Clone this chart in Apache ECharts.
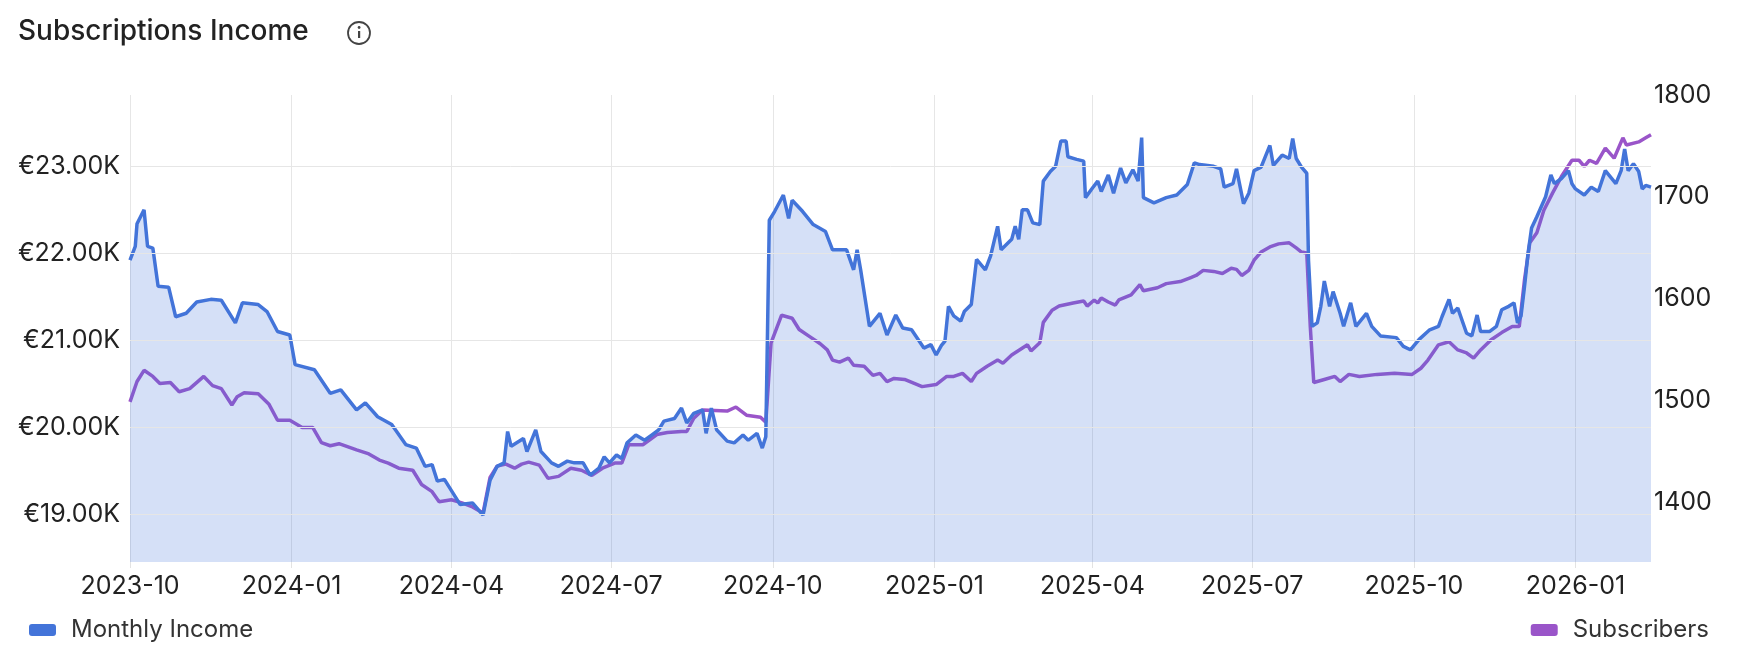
<!DOCTYPE html>
<html><head><meta charset="utf-8">
<script src="https://cdn.jsdelivr.net/npm/echarts@6/dist/echarts.min.js"></script>
<style>html,body{margin:0;padding:0;background:#fff}#c{width:1748px;height:660px}</style>
</head><body><div id="c"></div>
<script>
const startDate = '2023-10-01';
const totalDays = 866;
// [day offset from startDate, income in €K]
const incomePoints = [[0,21.92],[3,22.08],[4,22.34],[8,22.50],[10,22.08],[13,22.06],[16,21.62],[22,21.61],[26,21.27],[32,21.31],[38,21.44],[46,21.47],[52,21.46],[60,21.20],[64,21.43],[73,21.41],[78,21.33],[84,21.10],[91,21.06],[94,20.72],[105,20.66],[114,20.39],[120,20.43],[129,20.20],[134,20.28],[141,20.12],[149,20.03],[157,19.80],[163,19.76],[168,19.55],[172,19.57],[175,19.38],[179,19.40],[188,19.11],[195,19.13],[201,18.99],[205,19.39],[209,19.55],[213,19.59],[215,19.95],[217,19.78],[224,19.87],[226,19.72],[231,19.97],[234,19.72],[240,19.59],[244,19.55],[249,19.61],[253,19.59],[258,19.59],[262,19.45],[267,19.53],[270,19.66],[273,19.59],[277,19.68],[280,19.64],[283,19.82],[288,19.91],[293,19.85],[297,19.91],[301,19.97],[304,20.07],[310,20.10],[314,20.22],[317,20.05],[321,20.16],[326,20.20],[328,19.93],[331,20.22],[334,19.97],[340,19.84],[344,19.82],[349,19.91],[352,19.85],[357,19.93],[360,19.76],[362,19.89],[364,22.38],[367,22.48],[372,22.67],[375,22.40],[377,22.61],[383,22.48],[389,22.33],[396,22.25],[400,22.04],[408,22.04],[412,21.81],[414,22.04],[416,21.81],[421,21.16],[427,21.31],[431,21.06],[436,21.29],[440,21.14],[445,21.12],[452,20.91],[456,20.95],[459,20.83],[462,20.94],[464,20.99],[466,21.39],[469,21.28],[473,21.22],[475,21.33],[479,21.41],[482,21.93],[487,21.81],[490,21.97],[494,22.31],[496,22.04],[502,22.16],[504,22.31],[506,22.16],[508,22.50],[511,22.50],[514,22.35],[518,22.33],[520,22.83],[524,22.94],[527,23.00],[530,23.29],[533,23.29],[534,23.11],[539,23.08],[543,23.06],[544,22.64],[548,22.75],[551,22.83],[553,22.71],[557,22.90],[560,22.69],[564,22.98],[567,22.81],[571,22.96],[574,22.83],[576,23.33],[577,22.64],[583,22.58],[590,22.64],[596,22.67],[602,22.79],[606,23.04],[609,23.02],[617,23.00],[621,22.97],[623,22.76],[628,22.80],[630,22.97],[634,22.57],[637,22.69],[640,22.95],[644,22.99],[649,23.24],[651,23.01],[656,23.13],[660,23.09],[662,23.32],[664,23.09],[667,22.99],[670,22.92],[671,21.92],[673,21.16],[676,21.20],[678,21.39],[680,21.68],[683,21.39],[685,21.56],[689,21.31],[691,21.16],[695,21.43],[698,21.16],[704,21.31],[707,21.16],[712,21.05],[721,21.03],[725,20.93],[729,20.89],[734,21.01],[740,21.12],[745,21.16],[747,21.27],[751,21.47],[753,21.31],[756,21.37],[761,21.08],[764,21.05],[767,21.29],[769,21.10],[774,21.10],[778,21.16],[781,21.35],[785,21.39],[788,21.43],[790,21.20],[792,21.28],[794,21.62],[796,22.00],[798,22.29],[801,22.42],[806,22.65],[809,22.90],[811,22.80],[815,22.86],[819,22.95],[821,22.80],[823,22.74],[828,22.67],[832,22.76],[836,22.71],[840,22.95],[846,22.80],[849,22.95],[851,23.20],[853,22.95],[856,23.03],[859,22.94],[861,22.74],[863,22.78],[866,22.76]];
// [day offset from startDate, subscribers]
const subscriberPoints = [[0,1499],[4,1519],[8,1530],[13,1524],[17,1517],[23,1518],[28,1509],[34,1512],[42,1524],[47,1515],[52,1512],[58,1496],[61,1504],[65,1508],[73,1507],[79,1497],[84,1481],[91,1481],[98,1474],[104,1474],[109,1459],[114,1456],[119,1458],[129,1452],[136,1448],[142,1442],[147,1439],[153,1434],[161,1432],[166,1418],[172,1411],[176,1401],[183,1403],[189,1400],[195,1396],[201,1390],[205,1425],[209,1436],[214,1438],[219,1434],[223,1438],[227,1440],[233,1437],[238,1424],[244,1426],[251,1434],[257,1432],[263,1427],[269,1434],[276,1439],[280,1439],[284,1457],[292,1457],[300,1467],[306,1469],[314,1470],[317,1470],[321,1483],[326,1491],[340,1490],[345,1494],[351,1486],[359,1484],[362,1479],[365,1557],[371,1584],[377,1581],[381,1570],[387,1563],[393,1556],[397,1550],[400,1540],[404,1538],[409,1542],[412,1535],[418,1534],[423,1525],[427,1527],[431,1519],[435,1522],[441,1521],[451,1514],[459,1516],[465,1524],[469,1524],[474,1527],[479,1519],[482,1527],[488,1534],[494,1540],[497,1537],[502,1545],[511,1555],[513,1549],[518,1557],[520,1577],[525,1589],[529,1593],[537,1596],[543,1598],[545,1593],[549,1599],[551,1596],[553,1601],[557,1597],[561,1594],[563,1599],[570,1604],[575,1614],[577,1608],[585,1611],[590,1615],[598,1617],[604,1621],[607,1623],[611,1628],[617,1627],[622,1625],[627,1630],[630,1629],[633,1623],[637,1628],[640,1638],[644,1646],[649,1651],[654,1654],[660,1655],[664,1650],[667,1646],[670,1645],[672,1573],[674,1518],[680,1521],[686,1524],[689,1519],[694,1526],[700,1524],[710,1526],[720,1527],[730,1526],[735,1532],[739,1540],[745,1555],[751,1558],[756,1550],[761,1547],[765,1542],[769,1550],[775,1560],[781,1567],[787,1573],[791,1573],[794,1619],[797,1655],[801,1665],[805,1687],[810,1704],[815,1720],[821,1736],[825,1736],[828,1730],[831,1736],[835,1733],[840,1748],[845,1738],[850,1758],[852,1751],[859,1754],[863,1758],[866,1761]];
const quarterMonths = ['01','04','07','10'];
const incomeGridTicks = [19,20,21,22,23];

function dayStr(off){
  const d = new Date(startDate + 'T00:00:00Z');
  d.setUTCDate(d.getUTCDate() + off);
  return d.toISOString().slice(0,10);
}
const categories = [];
for (let i = 0; i <= totalDays; i++) categories.push(dayStr(i));
const isQuarter = (idx, val) => val.slice(8) === '01' && quarterMonths.includes(val.slice(5,7));
const income = incomePoints.map(p => [dayStr(p[0]), p[1]]);
const subs = subscriberPoints.map(p => [dayStr(p[0]), p[1]]);

const font = 'Inter';
const chart = echarts.init(document.getElementById('c'));
chart.setOption({
  animation: false,
  textStyle: { fontFamily: font },
  title: { text: 'Subscriptions Income', left: 13, top: 13,
    textStyle: { fontSize: 28, fontWeight: 500, color: '#222', fontFamily: font } },
  graphic: [
    { type: 'circle', shape: { cx: 359, cy: 33, r: 11 }, style: { fill: 'none', stroke: '#444', lineWidth: 1.8 } },
    { type: 'rect', shape: { x: 358, y: 31, width: 2.2, height: 7 }, style: { fill: '#444' } },
    { type: 'circle', shape: { cx: 359.1, cy: 27.5, r: 1.4 }, style: { fill: '#444' } }
  ],
  legend: [
    { data: ['Monthly Income'], left: 24, top: 613, icon: 'roundRect', itemWidth: 27, itemHeight: 12,
      textStyle: { fontSize: 24, color: '#333', fontFamily: font, padding: [0, 0, 0, 10] } },
    { data: ['Subscribers'], right: 34, top: 613, icon: 'roundRect', itemWidth: 27, itemHeight: 12,
      textStyle: { fontSize: 24, color: '#333', fontFamily: font, padding: [0, 0, 0, 10] } }
  ],
  grid: { left: 130, right: 97, top: 95, bottom: 98, containLabel: false },
  xAxis: {
    type: 'category', data: categories, boundaryGap: false,
    axisLine: { show: false },
    axisTick: { show: true, interval: isQuarter, length: 6, lineStyle: { color: '#e3e3e3' } },
    splitLine: { show: true, interval: isQuarter, lineStyle: { color: '#e6e6e6' } },
    axisLabel: { interval: isQuarter, formatter: v => v.slice(0,7), fontSize: 25, color: '#222', margin: 12 }
  },
  yAxis: [
    { type: 'value', min: 18.45, max: 23.82, splitNumber: 5,
      axisLine: { show: false }, axisTick: { show: false }, splitLine: { show: false },
      axisLabel: { showMinLabel: false, showMaxLabel: false, formatter: v => '€' + v.toFixed(2) + 'K',
        fontSize: 25, color: '#222', margin: 10 } },
    { type: 'value', min: 1342, max: 1800, splitNumber: 5,
      axisLine: { show: false }, axisTick: { show: false }, splitLine: { show: false },
      axisLabel: { showMinLabel: false, formatter: v => String(v), fontSize: 25, color: '#222', margin: 3 } }
  ],
  series: [
    { name: 'Monthly Income', type: 'line', yAxisIndex: 0, data: income, showSymbol: false, symbol: 'none',
      lineStyle: { color: '#4374d9', width: 3.5 }, itemStyle: { color: '#4374d9' },
      areaStyle: { color: 'rgba(67,116,217,0.32)', origin: 'start' }, z: 3,
      markLine: { silent: true, symbol: 'none', label: { show: false }, animation: false,
        lineStyle: { color: '#e6e6e6', type: 'solid', width: 1 },
        data: incomeGridTicks.map(v => ({ yAxis: v })) } },
    { name: 'Subscribers', type: 'line', yAxisIndex: 1, data: subs, showSymbol: false, symbol: 'none',
      lineStyle: { color: '#9a55c9', width: 3.5 }, itemStyle: { color: '#9a55c9' }, z: 2 }
  ]
});
</script></body></html>
